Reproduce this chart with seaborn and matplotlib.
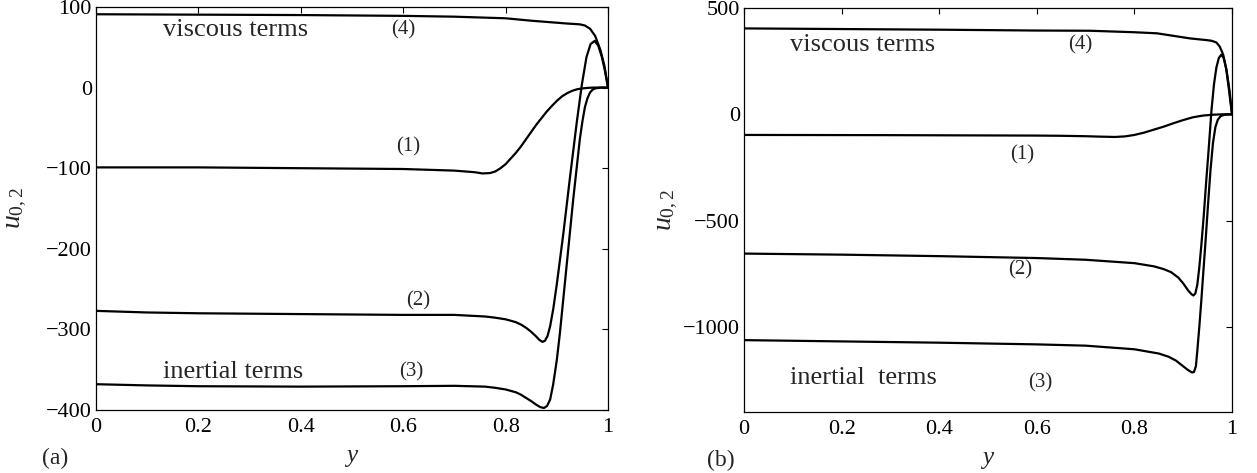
import matplotlib
matplotlib.use("Agg")
import matplotlib.pyplot as plt
import seaborn as sns

# ---- panel (a): positions along y and the four contributions ----
ya_1 = [0.0, 0.2, 0.4, 0.6, 0.7, 0.74, 0.755, 0.77, 0.78, 0.79, 0.80, 0.81,
        0.82, 0.83, 0.84, 0.85, 0.86, 0.87, 0.88, 0.89, 0.90, 0.91, 0.92,
        0.93, 0.94, 0.95, 0.96, 0.97, 1.0]
ua_1 = [-99, -99, -100, -101, -103, -105, -106.5, -106, -104, -100, -95, -88,
        -81, -73, -64, -55, -46, -38, -30, -23, -16.5, -11, -7,
        -4, -2, -1, -0.4, 0, 0]

ya_2 = [0.0, 0.1, 0.2, 0.4, 0.6, 0.7, 0.76, 0.78, 0.8, 0.82, 0.83, 0.84,
        0.85, 0.86, 0.866, 0.872, 0.877, 0.882, 0.887, 0.893, 0.9, 0.913,
        0.926, 0.939, 0.949, 0.958, 0.966, 0.974, 0.981, 0.988, 0.994, 1.0]
ua_2 = [-277, -279, -280, -281, -282, -282, -284, -285.5, -287.5, -291, -294, -298,
        -303, -309, -313, -315.5, -314, -308, -296, -275, -244, -180,
        -110, -43, 4, 38, 54, 58, 52, 38, 21, 0]

ya_3 = [0.0, 0.1, 0.2, 0.4, 0.6, 0.7, 0.76, 0.78, 0.8, 0.82, 0.83, 0.84,
        0.85, 0.86, 0.868, 0.875, 0.881, 0.887, 0.893, 0.9, 0.906, 0.919,
        0.932, 0.945, 0.95, 0.955, 0.96, 0.965, 0.97, 0.975, 0.985, 1.0]
ua_3 = [-368, -369.5, -370.5, -371, -370.5, -370, -371, -372.5, -374.5, -378, -381, -385,
        -389, -393.5, -396.5, -397.5, -395, -387, -368, -338, -305, -222,
        -139, -64, -42, -24, -13, -6, -2.5, -1, 0, 0]

ya_4 = [0.0, 0.2, 0.4, 0.6, 0.7, 0.8, 0.85, 0.89, 0.92, 0.945, 0.955, 0.965,
        0.975, 0.985, 0.993, 1.0]
ua_4 = [91, 90.5, 90, 89, 88, 86, 83, 81, 79.5, 78.5, 77, 73,
        64, 47, 27, 0]

# ---- panel (b) ----
yb_1 = [0.0, 0.3, 0.6, 0.65, 0.7, 0.73, 0.76, 0.78, 0.8, 0.82, 0.84, 0.86,
        0.88, 0.9, 0.92, 0.94, 0.96, 0.98, 1.0]
ub_1 = [-97, -98, -100, -101, -103, -105, -106.5, -104, -97, -86, -72, -58,
        -42, -27, -14, -6, -2, 0, 0]

yb_2 = [0.0, 0.2, 0.4, 0.6, 0.7, 0.8, 0.84, 0.86, 0.875, 0.89, 0.9, 0.91,
        0.917, 0.921, 0.925, 0.929, 0.933, 0.937, 0.942, 0.947, 0.952, 0.958,
        0.963, 0.968, 0.973, 0.978, 0.983, 0.988, 0.993, 0.997, 1.0]
ub_2 = [-655, -660, -667, -676, -684, -700, -715, -728, -742, -768, -795, -828,
        -846, -852, -842, -800, -720, -620, -480, -320, -170, 20,
        140, 220, 265, 280, 265, 215, 130, 55, 0]

yb_3 = [0.0, 0.2, 0.4, 0.6, 0.7, 0.8, 0.85, 0.87, 0.885, 0.9, 0.91, 0.918,
        0.922, 0.926, 0.929, 0.933, 0.937, 0.941, 0.946, 0.951, 0.956, 0.961,
        0.966, 0.971, 0.977, 0.985, 1.0]
ub_3 = [-1062, -1068, -1074, -1082, -1088, -1105, -1125, -1140, -1158, -1185, -1203, -1214,
        -1212, -1185, -1110, -1000, -880, -750, -590, -420, -260, -135,
        -60, -25, -8, -2, 0]

yb_4 = [0.0, 0.2, 0.4, 0.6, 0.709, 0.8, 0.846, 0.914, 0.948, 0.958, 0.968,
        0.975, 0.982, 0.989, 0.995, 1.0]
ub_4 = [404, 401, 398, 394, 393, 386, 381, 357, 349, 346, 338,
        318, 280, 205, 110, 0]

x_ticks = [0, 0.2, 0.4, 0.6, 0.8, 1.0]
x_ticklabels = ["0", "0.2", "0.4", "0.6", "0.8", "1"]
ya_ticks = [-400, -300, -200, -100, 0, 100]
ya_ticklabels = ["\u2212400", "\u2212300", "\u2212200", "\u2212100", "0", "100"]
yb_ticks = [-1000, -500, 0, 500]
yb_ticklabels = ["\u22121000", "\u2212500", "0", "500"]

sns.set_theme(style="white")
plt.rcParams["font.family"] = ["Liberation Serif", "DejaVu Serif"]
plt.rcParams["mathtext.fontset"] = "custom"
plt.rcParams["mathtext.rm"] = "Liberation Serif"
plt.rcParams["mathtext.it"] = "Liberation Serif:italic"
plt.rcParams["axes.linewidth"] = 0.9

W, H = 1257, 473
fig = plt.figure(figsize=(W / 100, H / 100), dpi=100)
ax_a = fig.add_axes([96 / W, 1 - 410 / H, 512 / W, 403 / H])
ax_b = fig.add_axes([744 / W, 1 - 412 / H, 488 / W, 404 / H])

LW = 1.6
for xs, vs in [(ya_1, ua_1), (ya_2, ua_2), (ya_3, ua_3), (ya_4, ua_4)]:
    sns.lineplot(x=xs, y=vs, ax=ax_a, color="black", lw=LW, sort=False)
for xs, vs in [(yb_1, ub_1), (yb_2, ub_2), (yb_3, ub_3), (yb_4, ub_4)]:
    sns.lineplot(x=xs, y=vs, ax=ax_b, color="black", lw=LW, sort=False)


def style_axes(ax, yticks, yticklabels, ylim, tag, tag_x):
    ax.set_xlim(0, 1)
    ax.set_ylim(*ylim)
    ax.set_xticks(x_ticks)
    ax.set_xticklabels(x_ticklabels)
    ax.set_yticks(yticks)
    ax.set_yticklabels(yticklabels)
    for s in ax.spines.values():
        s.set_visible(True)
        s.set_color("black")
        s.set_linewidth(0.9)
    ax.tick_params(axis="both", which="both", direction="in", length=4, width=0.8,
                   top=True, right=True, labelsize=16, colors="black")
    ax.tick_params(axis="x", pad=6)
    ax.tick_params(axis="y", pad=3)
    ax.set_xlabel("$y$", fontsize=18)
    ax.xaxis.set_label_coords(0.5, -0.118)
    ax.xaxis.label.set_va("center")
    ax.set_ylabel("$u_{0,2}$", fontsize=20)
    ax.yaxis.set_label_coords(-0.156, 0.5)
    ax.yaxis.label.set_va("center")
    ax.text(tag_x, -0.12, tag, transform=ax.transAxes, fontsize=17,
            ha="center", va="center")
    ax.grid(False)


style_axes(ax_a, ya_ticks, ya_ticklabels, (-400, 100), "(a)", -0.08)
style_axes(ax_b, yb_ticks, yb_ticklabels, (-1400, 500), "(b)", -0.048)

# curve annotations
ax_a.text(0.131, 72, "viscous terms", fontsize=19, ha="left", va="center")
ax_a.text(0.60, 72, "(4)", fontsize=15, ha="center", va="center")
ax_a.text(0.61, -74, "(1)", fontsize=15, ha="center", va="center")
ax_a.text(0.63, -264, "(2)", fontsize=15, ha="center", va="center")
ax_a.text(0.131, -353, "inertial terms", fontsize=19, ha="left", va="center")
ax_a.text(0.615, -353, "(3)", fontsize=15, ha="center", va="center")

ax_b.text(0.094, 326, "viscous terms", fontsize=19, ha="left", va="center")
ax_b.text(0.69, 326, "(4)", fontsize=15, ha="center", va="center")
ax_b.text(0.57, -192, "(1)", fontsize=15, ha="center", va="center")
ax_b.text(0.566, -732, "(2)", fontsize=15, ha="center", va="center")
ax_b.text(0.094, -1240, "inertial  terms", fontsize=19, ha="left", va="center")
ax_b.text(0.607, -1263, "(3)", fontsize=15, ha="center", va="center")

fig.savefig("out.png", dpi=100)
